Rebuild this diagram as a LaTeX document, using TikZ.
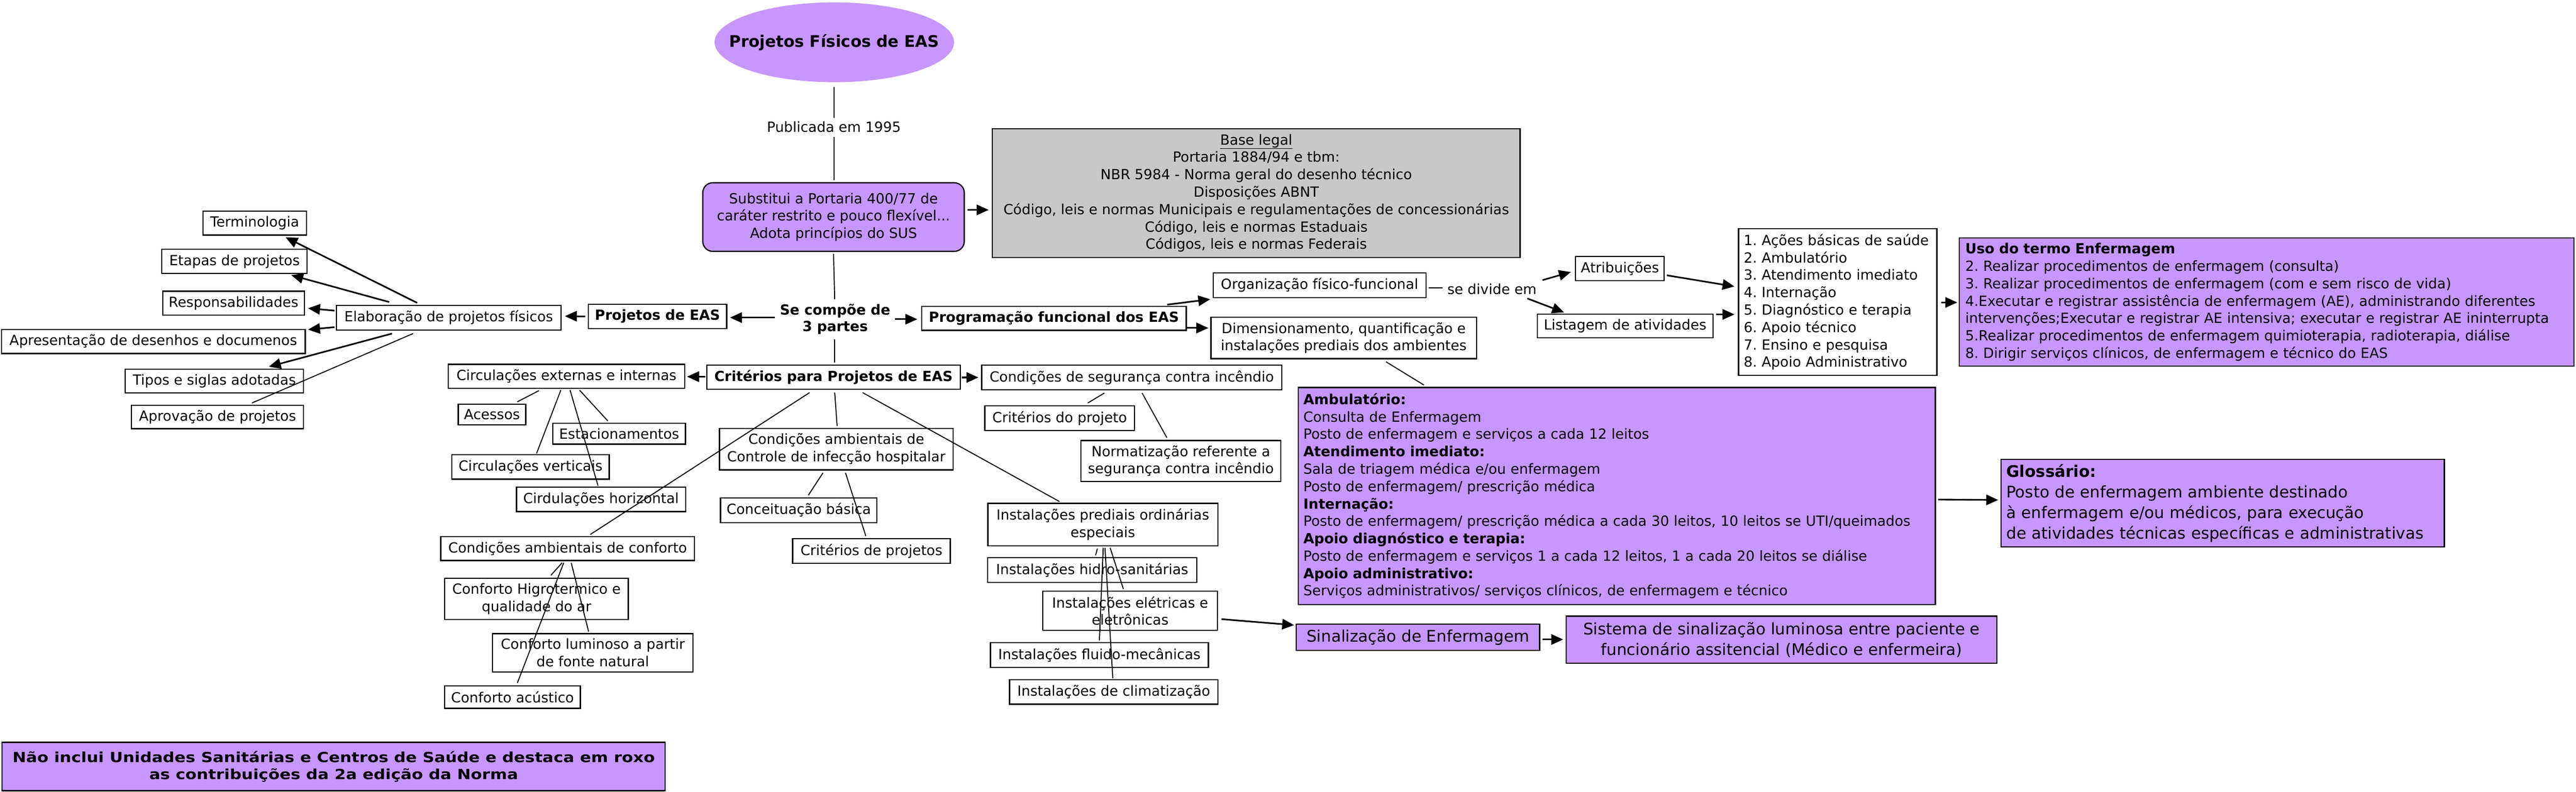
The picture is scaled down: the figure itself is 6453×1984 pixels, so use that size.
\documentclass[tikz,border=0pt]{standalone}
\usepackage{fontspec}
\usepackage{graphicx}
\setmainfont{DejaVu Sans}
\usetikzlibrary{arrows.meta,shapes.geometric}
\definecolor{purp}{RGB}{200,150,255}
\definecolor{grayb}{RGB}{200,200,200}
\newcommand\fsN{\fontsize{35}{43.6}\selectfont}
\newcommand\fsL{\fontsize{40}{51.7}\selectfont}
\newcommand\fsS{\fontsize{35}{41}\selectfont\bfseries}
\newcommand\fsT{\fontsize{40}{48}\selectfont\bfseries}
\tikzset{
  box/.style={draw, line width=3pt, fill=white, inner sep=0pt, align=center, font=\fsN},
  pbox/.style={box, fill=purp},
  sz/.style 2 args={minimum width=#1pt, minimum height=#2pt},
  lbox/.style 2 args={box, align=left, text width=#1pt, inner xsep=13pt, minimum height=#2pt},
  conn/.style={line width=2.5pt},
  arr/.style={line width=4pt, -{Triangle[length=30pt,width=26pt]}},
  lbl/.style={inner sep=0pt, align=center, font=\fsN},
}
\begin{document}
\frenchspacing
\begin{tikzpicture}[x=1pt,y=-1pt]
\fill[white] (0,0) rectangle (6453,1984);
\useasboundingbox (0,0) rectangle (6453,1984);

% left column
\node[box, sz={259}{60}] (term) at (638,559) {Terminologia};
\node[box, sz={364}{60}] (etap) at (587.5,655) {Etapas de projetos};
\node[box, sz={355}{60}] (resp) at (585,760) {Responsabilidades};
\node[box, sz={563}{62}] (elab) at (1124,796) {Elaboração de projetos físicos};
\node[box, sz={761}{60}] (apres) at (384,856) {Apresentação de desenhos e documenos};
\node[box, sz={446}{60}] (tipos) at (537,955) {Tipos e siglas adotadas};
\node[box, sz={431}{59}] (aprov) at (545,1045) {Aprovação de projetos};

% top
\node[ellipse, fill=purp, minimum width=600pt, minimum height=200pt, inner sep=0pt] (ell) at (2090,106) {};
\node[font=\fsT, inner sep=0pt] (elltxt) at (ell.center) {Projetos Físicos de EAS};
\node[lbl] (pub) at (2089,318) {Publicada em 1995};
\node[pbox, sz={655}{172}, rounded corners=25pt] (subst) at (2088,544) {Substitui a Portaria 400/77 de\\caráter restrito e pouco flexível...\\Adota princípios do SUS};
\node[box, fill=grayb, sz={1322}{322}] (base) at (3147,484) {\underline{Base legal}\\Portaria 1884/94 e tbm:\\NBR 5984 - Norma geral do desenho técnico\\Disposições ABNT\\Código, leis e normas Municipais e regulamentações de concessionárias\\Código, leis e normas Estaduais\\Códigos, leis e normas Federais};

% center
\node[lbl, font=\fsS] (secomp) at (2092,800) {Se compõe de\\3 partes};
\node[box, font=\fsN\bfseries, sz={347}{61}] (projeas) at (1647,793) {Projetos de EAS};
\node[box, font=\fsN\bfseries, sz={663}{60}] (prog) at (2640,798) {Programação funcional dos EAS};
\node[box, font=\fsN\bfseries, sz={635}{61}] (crit) at (2088,945.5) {Critérios para Projetos de EAS};

% programacao branch
\node[box, sz={533}{62}] (org) at (3305.5,714.6) {Organização físico-funcional};
\node[box, sz={665}{104}] (dim) at (3366,847) {Dimensionamento, quantificação e\\instalações prediais dos ambientes};
\node[lbl] (sediv) at (3737.5,725) {se divide em};
\node[box, sz={222}{61}] (atrib) at (4058,673) {Atribuições};
\node[box, sz={440}{60}] (listag) at (4071,817) {Listagem de atividades};
\node[lbox={471}{368}] (acoes) at (4603.5,757) {1. Ações básicas de saúde\\2. Ambulatório\\3. Atendimento imediato\\4. Internação\\5. Diagnóstico e terapia\\6. Apoio técnico\\7. Ensino e pesquisa\\8. Apoio Administrativo};
\node[lbox={1510}{322}, fill=purp, inner xsep=15pt] (uso) at (5678,757) {\textbf{Uso do termo Enfermagem}\\2. Realizar procedimentos de enfermagem (consulta)\\3. Realizar procedimentos de enfermagem (com e sem risco de vida)\\4.Executar e registrar assistência de enfermagem (AE), administrando diferentes\\intervenções;Executar e registrar AE intensiva; executar e registrar AE ininterrupta\\5.Realizar procedimentos de enfermagem quimioterapia, radioterapia, diálise\\8. Dirigir serviços clínicos, de enfermagem e técnico do EAS};
\node[lbox={1570}{544}, fill=purp] (ambu) at (4050,1243) {\textbf{Ambulatório:}\\Consulta de Enfermagem\\Posto de enfermagem e serviços a cada 12 leitos\\\textbf{Atendimento imediato:}\\Sala de triagem médica e/ou enfermagem\\Posto de enfermagem/ prescrição médica\\\textbf{Internação:}\\Posto de enfermagem/ prescrição médica a cada 30 leitos, 10 leitos se UTI/queimados\\\textbf{Apoio diagnóstico e terapia:}\\Posto de enfermagem e serviços 1 a cada 12 leitos, 1 a cada 20 leitos se diálise\\\textbf{Apoio administrativo:}\\Serviços administrativos/ serviços clínicos, de enfermagem e técnico};
\node[lbox={1084}{220}, fill=purp, font=\fsL] (gloss) at (5568,1261) {\textbf{Glossário:}\\Posto de enfermagem ambiente destinado\\à enfermagem e/ou médicos, para execução\\de atividades técnicas específicas e administrativas};

% criterios branch
\node[box, sz={592}{60}] (circ) at (1419,943) {Circulações externas e internas};
\node[box, sz={169}{52}] (acess) at (1232.5,1039) {Acessos};
\node[box, sz={332}{52}] (estac) at (1551,1087) {Estacionamentos};
\node[box, sz={394}{61}] (vert) at (1329,1170.5) {Circulações verticais};
\node[box, sz={424}{61}] (horiz) at (1505.7,1251.5) {Cirdulações horizontal};
\node[box, sz={636}{60}] (confort) at (1422,1375) {Condições ambientais de conforto};
\node[box, sz={460}{104}] (higro) at (1344,1501) {Conforto Higrotermico e\\qualidade do ar};
\node[box, sz={502}{96}] (lumin) at (1485,1636) {Conforto luminoso a partir\\de fonte natural};
\node[box, sz={340}{56}] (acust) at (1284,1747) {Conforto acústico};
\node[box, sz={585}{104}] (ctrl) at (2095,1125.5) {Condições ambientais de\\Controle de infecção hospitalar};
\node[box, sz={392}{62}] (conc) at (2001,1278.6) {Conceituação básica};
\node[box, sz={395}{62}] (critp) at (2183,1381) {Critérios de projetos};
\node[box, sz={752}{62}] (seg) at (2835,946) {Condições de segurança contra incêndio};
\node[box, sz={375}{62}] (critpj) at (2654.5,1048) {Critérios do projeto};
\node[box, sz={500}{103}] (norm) at (2958,1155.5) {Normatização referente a\\segurança contra incêndio};
\node[box, sz={576}{106}] (inst) at (2762.6,1314.7) {Instalações prediais ordinárias\\especiais};
\node[box, sz={524}{62}] (hidro) at (2736,1429) {Instalações hidro-sanitárias};
\node[box, sz={438}{98}] (elet) at (2831,1531) {Instalações elétricas e\\eletrônicas};
\node[box, sz={546}{62}] (fluido) at (2754,1642) {Instalações fluido-mecânicas};
\node[box, sz={522}{61}] (clim) at (2790,1734.5) {Instalações de climatização};
\node[pbox, sz={610}{66}, font=\fsL] (sinal) at (3552,1597) {Sinalização de Enfermagem};
\node[pbox, sz={1079}{118}, font=\fsL] (sist) at (4463,1603) {Sistema de sinalização luminosa entre paciente e\\funcionário assitencial (Médico e enfermeira)};

% bottom note
\node[pbox, sz={1661}{121}, font=\fontsize{35}{43}\selectfont\bfseries] (nao) at (836,1921) {\scalebox{1.17}[1]{Não inclui Unidades Sanitárias e Centros de Saúde e destaca em roxo}\\\scalebox{1.17}[1]{as contribuições da 2a edição da Norma}};

% ---------- connectors ----------
\draw[arr] ([xshift=-79pt,yshift=37pt]elab.center) -- ([xshift=77.5pt,yshift=-35.7pt]term.center);
\draw[arr] ([xshift=-149pt,yshift=39pt]elab.center) -- ([xshift=142.1pt,yshift=-34.6pt]etap.center);
\draw[arr] ([xshift=-286pt,yshift=17.5pt]elab.center) -- ([xshift=186.6pt,yshift=-12.6pt]resp.center);
\draw[arr] ([xshift=-286pt,yshift=-24pt]elab.center) -- ([xshift=387.6pt,yshift=30pt]apres.center);
\draw[arr] ([xshift=-142pt,yshift=-40pt]elab.center) -- ([xshift=136.5pt,yshift=36pt]tipos.center);
\draw[conn] ([xshift=-89.3pt,yshift=-40pt]elab.center) -- ([xshift=86pt,yshift=35pt]aprov.center);

\draw[conn] ([xshift=-1pt,yshift=-112pt]ell.center) -- ([yshift=22pt]pub.center);
\draw[conn] ([yshift=-25pt]pub.center) -- ([xshift=1pt,yshift=92pt]subst.center);
\draw[arr] ([xshift=336pt,yshift=18pt]subst.center) -- ([xshift=-670.4pt,yshift=-42pt]base.center);
\draw[conn] ([yshift=-92pt]subst.center) -- ([xshift=-1pt,yshift=50pt]secomp.center);
\draw[arr] ([xshift=-151pt,yshift=4pt]secomp.center) -- ([xshift=181.6pt,yshift=-3pt]projeas.center);
\draw[arr] ([xshift=150pt]secomp.center) -- ([xshift=-342pt,yshift=-2pt]prog.center);
\draw[conn] ([xshift=-1pt,yshift=-50pt]secomp.center) -- ([xshift=3pt,yshift=37pt]crit.center);
\draw[arr] ([xshift=-181pt,yshift=0.5pt]projeas.center) -- ([xshift=291pt,yshift=3.5pt]elab.center);

\draw[arr] ([xshift=284pt,yshift=34.5pt]prog.center) -- ([xshift=-273.9pt,yshift=-35.4pt]org.center);
\draw[arr] ([xshift=334pt,yshift=-24pt]prog.center) -- ([xshift=-339pt,yshift=25pt]dim.center);
\draw[conn] ([xshift=273.5pt,yshift=-6.4pt]org.center) -- ([xshift=-124.5pt,yshift=4pt]sediv.center);
\draw[arr] ([xshift=126.5pt,yshift=23pt]sediv.center) -- ([xshift=-123pt,yshift=-8.7pt]atrib.center);
\draw[arr] ([xshift=88.5pt,yshift=-23pt]sediv.center) -- ([xshift=-153pt,yshift=34pt]listag.center);
\draw[arr] ([xshift=117.6pt,yshift=-17pt]atrib.center) -- ([xshift=-258.5pt,yshift=39pt]acoes.center);
\draw[arr] ([xshift=228pt,yshift=29pt]listag.center) -- ([xshift=-258.5pt,yshift=-31pt]acoes.center);
\draw[arr] ([xshift=259pt,yshift=-1pt]acoes.center) -- ([xshift=-775pt,yshift=-1pt]uso.center);
\draw[conn] ([xshift=106pt,yshift=-59.7pt]dim.center) -- ([xshift=-483pt,yshift=278pt]ambu.center);
\draw[arr] ([xshift=805pt,yshift=-9pt]ambu.center) -- ([xshift=-562.4pt,yshift=8pt]gloss.center);

\draw[arr] ([xshift=-321pt,yshift=1.5pt]crit.center) -- ([xshift=302pt,yshift=-1pt]circ.center);
\draw[arr] ([xshift=322pt,yshift=-0.5pt]crit.center) -- ([xshift=-384pt]seg.center);
\draw[conn] ([xshift=-60pt,yshift=-38.5pt]crit.center) -- ([xshift=56.7pt,yshift=35.5pt]confort.center);
\draw[conn] ([xshift=3pt,yshift=-38.5pt]crit.center) -- ([xshift=2pt,yshift=57.9pt]ctrl.center);
\draw[conn] ([xshift=73pt,yshift=-38.5pt]crit.center) -- ([xshift=-108.6pt,yshift=57.7pt]inst.center);

\draw[conn] ([xshift=-69pt,yshift=-36pt]circ.center) -- ([xshift=63.5pt,yshift=32pt]acess.center);
\draw[conn] ([xshift=-14pt,yshift=-34.5pt]circ.center) -- ([xshift=15pt,yshift=33.8pt]vert.center);
\draw[conn] ([xshift=9pt,yshift=-34.5pt]circ.center) -- ([xshift=-7.7pt,yshift=34.5pt]horiz.center);
\draw[conn] ([xshift=33pt,yshift=-35pt]circ.center) -- ([xshift=-28.4pt,yshift=32pt]estac.center);

\draw[conn] ([xshift=-33.4pt,yshift=-59.5pt]ctrl.center) -- ([xshift=24pt,yshift=37.6pt]conc.center);
\draw[conn] ([xshift=23pt,yshift=-59.5pt]ctrl.center) -- ([xshift=-14pt,yshift=37.3pt]critp.center);

\draw[conn] ([xshift=-68.5pt,yshift=-39pt]seg.center) -- ([xshift=70.5pt,yshift=38pt]critpj.center);
\draw[conn] ([xshift=26pt,yshift=-39pt]seg.center) -- ([xshift=-35pt,yshift=58.5pt]norm.center);

\draw[conn] ([xshift=-14pt,yshift=-35.7pt]confort.center) -- ([xshift=36pt,yshift=59.3pt]higro.center);
\draw[conn] ([xshift=-10pt,yshift=-35.7pt]confort.center) -- ([xshift=12pt,yshift=35.3pt]acust.center);
\draw[conn] ([xshift=9pt,yshift=-35.7pt]confort.center) -- ([xshift=-10.5pt,yshift=53pt]lumin.center);

\draw[conn] ([xshift=-13.6pt,yshift=-60.3pt]inst.center) -- ([xshift=8.5pt,yshift=37.3pt]hidro.center);
\draw[conn] ([xshift=1pt,yshift=-58.3pt]inst.center) -- ([yshift=37pt]fluido.center);
\draw[conn] ([xshift=5.4pt,yshift=-58.3pt]inst.center) -- ([xshift=-2.4pt,yshift=34.5pt]clim.center);
\draw[conn] ([xshift=18.4pt,yshift=-58.3pt]inst.center) -- ([xshift=-17pt,yshift=55pt]elet.center);
\draw[arr] ([xshift=229pt,yshift=-20.7pt]elet.center) -- ([xshift=-310pt,yshift=30.3pt]sinal.center);
\draw[arr] ([xshift=312pt,yshift=-5.7pt]sinal.center) -- ([xshift=-547pt,yshift=0.3pt]sist.center);
\end{tikzpicture}
\end{document}
